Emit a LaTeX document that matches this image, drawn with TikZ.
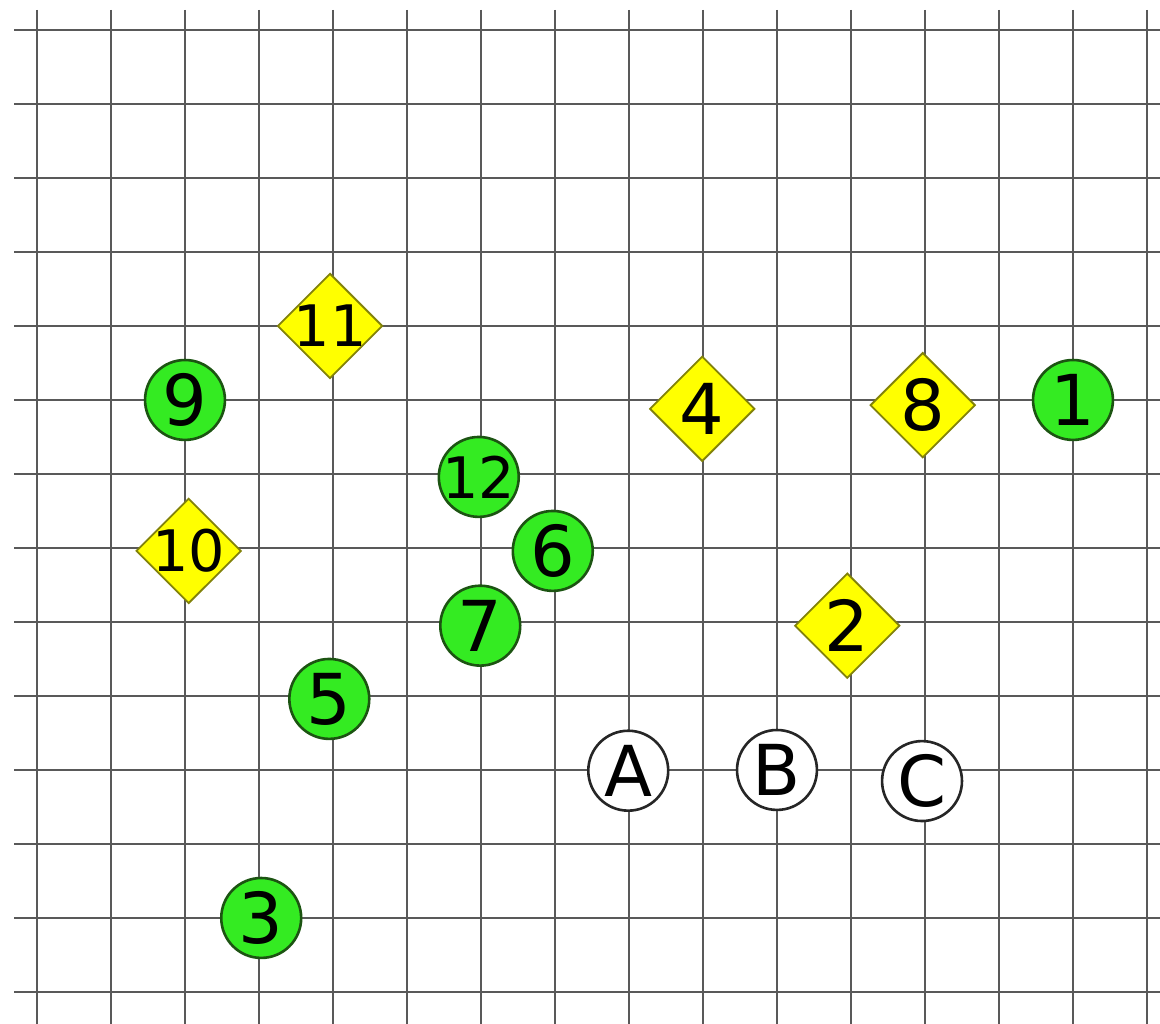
\documentclass[tikz,border=0pt]{standalone}
\usepackage{fontspec}
\setmainfont{DejaVu Sans}
\usetikzlibrary{shapes.geometric}
\definecolor{ptgreen}{RGB}{52,235,34}
\definecolor{ptgreenline}{RGB}{28,84,18}
\definecolor{ptyellow}{RGB}{255,255,0}
\definecolor{ptyellowline}{RGB}{130,130,10}

\begin{document}
\begin{tikzpicture}[x=1cm,y=-1cm,
    gridline/.style={black!65,line width=1.1pt},
    onedig/.style={font=\fontsize{27}{30}\selectfont},
    twodig/.style={font=\fontsize{22}{25}\selectfont},
    grn/.style={circle,draw=ptgreenline,fill=ptgreen,line width=1pt,inner sep=-2pt,minimum size=1.08cm,onedig},
    wht/.style={circle,draw=black!85,fill=white,line width=1pt,inner sep=0pt,minimum size=1.08cm,onedig},
    ylw/.style={diamond,draw=ptyellowline,fill=ptyellow,line width=0.7pt,inner sep=-2pt,minimum size=1.42cm,onedig}]
  \useasboundingbox (-0.5,-0.405) rectangle (15.176,13.433);
  % grid
  \foreach \i in {0,...,15}
    \draw[gridline] (\i,-0.27) -- (\i,13.433);
  \foreach \j in {0,...,13}
    \draw[gridline] (-0.31,\j) -- (15.176,\j);
  % points
  \node[grn] (n1) at (14,5) {1};
  \node[ylw] (n2) at (10.95,8.05) {2};
  \node[grn] (n3) at (3.03,12) {3};
  \node[ylw] (n4) at (8.99,5.12) {4};
  \node[grn] (n5) at (3.95,9.04) {5};
  \node[grn] (n6) at (6.97,7.04) {6};
  \node[grn] (n7) at (5.99,8.05) {7};
  \node[ylw] (n8) at (11.97,5.07) {8};
  \node[grn] (n9) at (2,5) {9};
  \node[ylw,twodig] (n10) at (2.05,7.04) {10};
  \node[ylw,twodig] (n11) at (3.96,4) {11};
  \node[grn,twodig] (n12) at (5.97,6.04) {12};
  \node[wht] (nA) at (7.99,10.01) {A};
  \node[wht] (nB) at (10,10) {B};
  \node[wht] (nC) at (11.96,10.15) {C};
\end{tikzpicture}
\end{document}
